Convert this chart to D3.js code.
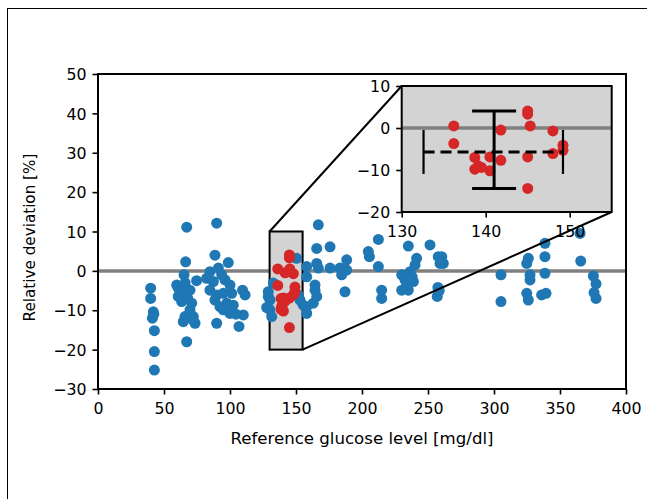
<!DOCTYPE html>
<html>
<head>
<meta charset="utf-8">
<script src="https://cdn.jsdelivr.net/npm/d3@7"></script>
<style>
    body { margin: 0; background: #fff; }
    svg { display: block; }
    text { font-family: "DejaVu Sans", sans-serif; fill: #000; }
</style>
</head>
<body>
<div id="chart"></div>
<script>
// all measurements [reference mg/dl, relative deviation %]
const allPoints = [
    [39.9, -4.4], [39.9, -7.0], [41.9, -10.4], [41.2, -12.0], [42.3, -11.0], [42.7, -15.2], [42.7, -20.5], [42.7, -25.2],
    [67.2, 11.1], [66.4, 2.3], [65.2, -1.0], [59.6, -3.6], [74.7, -2.5], [69.7, -4.9], [60.8, -6.5], [65.9, -5.3],
    [63.4, -7.8], [71.0, -8.2], [65.9, -11.6], [72.2, -11.6], [73.5, -13.3], [64.6, -12.9], [67.2, -18.0], [69.7, -9.9],
    [60.8, -4.4], [66.0, -3.0], [68.0, -7.0], [72.0, -12.5], [62.0, -6.0],
    [89.9, 12.1], [88.6, 4.0], [98.7, 2.1], [84.8, -0.2], [82.3, -1.9], [91.2, 0.7], [93.7, -1.0], [87.4, -2.7],
    [84.8, -4.9], [96.2, -2.3], [100.0, -3.6], [89.9, -6.1], [94.9, -5.7], [101.3, -5.7], [88.6, -7.4], [92.4, -9.1],
    [97.5, -8.2], [102.5, -8.7], [94.9, -9.9], [100.0, -10.8], [89.9, -13.3], [106.8, -14.1], [109.5, -4.9],
    [111.4, -6.1], [110.1, -11.2], [104.5, -11.0],
    [129.0, -5.3], [129.0, -6.5], [127.8, -9.3], [130.3, -7.4], [130.3, -9.9], [131.6, -11.6], [132.8, -3.1],
    [150.5, 3.2], [158.1, 1.1], [158.1, -1.5], [153.0, -7.4], [158.1, -10.8], [155.5, -8.7], [151.7, -6.1],
    [158.1, -9.1], [163.1, -8.2], [165.7, -6.5], [164.4, -3.6], [164.4, -4.9], [165.7, 1.9], [165.7, 5.7],
    [166.9, 11.7], [166.9, 0.7], [175.8, 6.1], [175.8, 0.7], [188.4, 2.8], [184.6, -1.0], [187.1, -5.3],
    [183.3, 0.7], [188.4, 0.2],
    [212.4, 8.0], [204.8, 4.9], [205.6, 3.6], [212.4, 1.1], [214.9, -4.9], [214.9, -7.0], [235.1, 6.3],
    [241.4, 3.2], [251.5, 6.6], [257.8, 3.6], [259.1, 1.9], [240.2, 1.5], [236.4, -0.2], [230.1, -1.0],
    [232.6, -2.3], [238.9, -2.7], [230.1, -4.9], [235.1, -4.9], [234.0, -3.5], [238.0, -1.5],
    [257.5, -4.2], [257.0, -6.5], [258.5, -5.0], [260.4, 3.6], [261.6, 1.9],
    [305.3, -1.0], [305.3, -7.8], [326.0, 3.2], [324.8, 1.9], [327.3, -1.0], [327.3, -2.3], [324.8, -5.7],
    [326.0, -7.4], [338.6, 7.0], [338.6, 3.6], [338.6, -0.6], [336.1, -6.1], [339.4, -5.7],
    [365.2, 9.5], [365.7, 2.5], [375.3, -1.3], [377.3, -3.3], [375.8, -5.5], [377.3, -7.0]
];

// measurements in the zoomed window
const zoomPoints = [
    [136.2, 0.5], [136.2, -3.7], [138.7, -7.0], [138.7, -9.8], [139.5, -9.4], [139.1, -9.0],
    [140.5, -10.2], [140.5, -6.9], [141.8, -0.5], [141.8, -7.7], [145.0, 4.05], [145.0, 3.3],
    [145.3, 0.5], [145.0, -6.9], [145.0, -14.4], [148.0, -0.7], [148.0, -6.1], [149.2, -4.1], [149.2, -5.3]
];

// error cross: [mean x, mean y], x range, y range
const errCenter = [141.0, -5.7];
const errX = [132.6, 149.2];
const errY = [-14.4, 4.05];

const mainXTicks = [0, 50, 100, 150, 200, 250, 300, 350, 400];
const mainYTicks = [-30, -20, -10, 0, 10, 20, 30, 40, 50];
const zoomXTicks = [130, 140, 150];
const zoomYTicks = [-20, -10, 0, 10];
const zoomXDomain = [130, 155];
const zoomYDomain = [-20, 10];

const labels = {
    x: "Reference glucose level [mg/dl]",
    y: "Relative deviation [%]"
};

const colors = {
    blue: "#1f77b4",
    red: "#d62728",
    zero: "#808080",
    zoomBg: "#d3d3d3"
};

const box = { left: 98, right: 626, top: 74, bottom: 389 };
const insetBox = { left: 401.7, right: 611.7, top: 86, bottom: 212 };
const radius = 5.5;
const capSize = 22;

const svg = d3.select("#chart").append("svg")
    .attr("width", 647)
    .attr("height", 499);

// figure frame (runs off the right / bottom of the picture)
svg.append("rect")
    .attr("x", 7.5).attr("y", 8.5)
    .attr("width", 700).attr("height", 600)
    .attr("fill", "none")
    .attr("stroke", "#000")
    .attr("stroke-width", 1);

const x = d3.scaleLinear().domain([0, 400]).range([box.left, box.right]);
const y = d3.scaleLinear().domain([-30, 50]).range([box.bottom, box.top]);

function drawAxes(g, xs, ys, b, xt, yt) {
    const xAxis = g.append("g")
        .attr("transform", `translate(0, ${b.bottom})`)
        .call(d3.axisBottom(xs).tickValues(xt).tickSize(5.5).tickPadding(6).tickSizeOuter(0));
    const yAxis = g.append("g")
        .attr("transform", `translate(${b.left}, 0)`)
        .call(d3.axisLeft(ys).tickValues(yt).tickSize(5.5).tickPadding(6).tickSizeOuter(0)
            .tickFormat(d => d < 0 ? "\u2212" + Math.abs(d) : d));
    [xAxis, yAxis].forEach(a => {
        a.select(".domain").remove();
        a.selectAll(".tick line").attr("stroke", "#000").attr("stroke-width", 1.6);
        a.selectAll(".tick text")
            .attr("font-size", 15.8)
            .attr("font-family", "DejaVu Sans")
            .attr("fill", "#000");
    });
    yAxis.selectAll(".tick text").attr("dy", "0.36em");
    xAxis.selectAll(".tick text").attr("dy", "0.88em");

    g.append("rect")
        .attr("x", b.left).attr("y", b.top)
        .attr("width", b.right - b.left).attr("height", b.bottom - b.top)
        .attr("fill", "none")
        .attr("stroke", "#000")
        .attr("stroke-width", 2);
}

function drawPoints(g, data, xs, ys, color) {
    g.append("g").selectAll("circle")
        .data(data)
        .join("circle")
        .attr("cx", d => xs(d[0]))
        .attr("cy", d => ys(d[1]))
        .attr("r", radius)
        .attr("fill", color);
}

// main axes
const main = svg.append("g");

main.append("line")
    .attr("x1", box.left).attr("x2", box.right)
    .attr("y1", y(0)).attr("y2", y(0))
    .attr("stroke", colors.zero)
    .attr("stroke-width", 3.5);

main.append("rect")
    .attr("x", x(zoomXDomain[0]))
    .attr("y", y(zoomYDomain[1]))
    .attr("width", x(zoomXDomain[1]) - x(zoomXDomain[0]))
    .attr("height", y(zoomYDomain[0]) - y(zoomYDomain[1]))
    .attr("fill", colors.zoomBg)
    .attr("stroke", "#000")
    .attr("stroke-width", 2);

drawPoints(main, allPoints, x, y, colors.blue);
drawPoints(main, zoomPoints, x, y, colors.red);
drawAxes(main, x, y, box, mainXTicks, mainYTicks);

main.append("text")
    .attr("x", (box.left + box.right) / 2)
    .attr("y", 444)
    .attr("text-anchor", "middle")
    .attr("font-size", 16.6)
    .text(labels.x);

main.append("text")
    .attr("transform", `translate(35, ${(box.top + box.bottom) / 2 + 6}) rotate(-90)`)
    .attr("text-anchor", "middle")
    .attr("font-size", 15.2)
    .text(labels.y);

// connector lines between zoom window and inset
const connectors = [
    [[x(zoomXDomain[0]), y(zoomYDomain[1])], [insetBox.left, insetBox.top]],
    [[x(zoomXDomain[1]), y(zoomYDomain[0])], [insetBox.right, insetBox.bottom]]
];
main.append("g").selectAll("line")
    .data(connectors)
    .join("line")
    .attr("x1", d => d[0][0]).attr("y1", d => d[0][1])
    .attr("x2", d => d[1][0]).attr("y2", d => d[1][1])
    .attr("stroke", "#000")
    .attr("stroke-width", 2);

// inset axes
const ix = d3.scaleLinear().domain(zoomXDomain).range([insetBox.left, insetBox.right]);
const iy = d3.scaleLinear().domain(zoomYDomain).range([insetBox.bottom, insetBox.top]);
const inset = svg.append("g");

inset.append("rect")
    .attr("x", insetBox.left).attr("y", insetBox.top)
    .attr("width", insetBox.right - insetBox.left)
    .attr("height", insetBox.bottom - insetBox.top)
    .attr("fill", colors.zoomBg);

inset.append("line")
    .attr("x1", insetBox.left).attr("x2", insetBox.right)
    .attr("y1", iy(0)).attr("y2", iy(0))
    .attr("stroke", colors.zero)
    .attr("stroke-width", 3.5);

drawPoints(inset, zoomPoints, ix, iy, colors.red);

const err = inset.append("g")
    .attr("stroke", "#000")
    .attr("stroke-width", 3)
    .attr("fill", "none");

err.append("line")
    .attr("x1", ix(errX[0])).attr("x2", ix(errX[1]))
    .attr("y1", iy(errCenter[1])).attr("y2", iy(errCenter[1]))
    .attr("stroke-dasharray", "11,6");

err.append("line")
    .attr("x1", ix(errCenter[0])).attr("x2", ix(errCenter[0]))
    .attr("y1", iy(errY[0])).attr("y2", iy(errY[1]));

errX.forEach(v => {
    err.append("line")
        .attr("x1", ix(v)).attr("x2", ix(v))
        .attr("y1", iy(errCenter[1]) - capSize).attr("y2", iy(errCenter[1]) + capSize)
        .attr("stroke-width", 2.2);
});
errY.forEach(v => {
    err.append("line")
        .attr("x1", ix(errCenter[0]) - capSize).attr("x2", ix(errCenter[0]) + capSize)
        .attr("y1", iy(v)).attr("y2", iy(v));
});

drawAxes(inset, ix, iy, insetBox, zoomXTicks, zoomYTicks);
</script>
</body>
</html>
